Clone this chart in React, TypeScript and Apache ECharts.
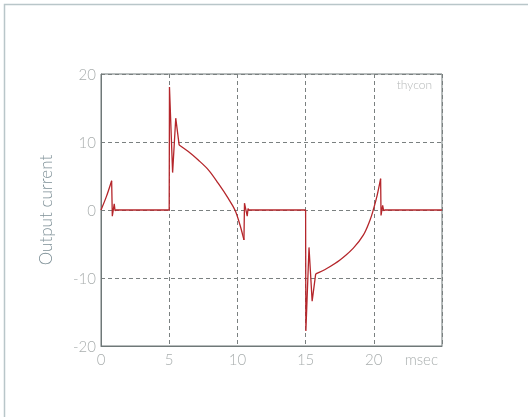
import React, { useEffect, useRef } from "react";
import * as echarts from "echarts";

// Sharp (switching) parts of the waveform
const spikeTime = [
  0.78, 0.83, 0.97, 1.03, 1.1,
  5.0, 5.02, 5.25, 5.48, 5.73,
];
const spikeCurrent = [
  4.3, -0.9, 0.9, -0.1, 0,
  0, 18.1, 5.5, 13.5, 9.55,
];
const spike2Time = [10.48, 10.52, 10.72, 10.78, 10.85, 15.0, 15.02, 15.25, 15.48, 15.74];
const spike2Current = [-4.4, 1.0, -0.9, 0.2, 0, 0, -17.8, -5.5, -13.4, -9.4];
const spike3Time = [20.5, 20.53, 20.65, 20.72, 20.8, 25];
const spike3Current = [4.6, -0.8, 0.7, -0.1, 0, 0];
// Smooth (conducting) parts
const riseTime = [0, 0.4, 0.78];
const riseCurrent = [0, 2.0, 4.3];
const decayTime = [5.73, 6.4, 7.13, 7.87, 8.6, 9.33, 9.82, 10.19, 10.48];
const decayCurrent = [9.55, 8.6, 7.35, 5.9, 3.9, 1.7, 0, -2.2, -4.4];
const decay2Time = [15.74, 16.55, 17.52, 18.5, 19.23, 19.72, 19.96, 20.25, 20.5];
const decay2Current = [-9.4, -8.6, -7.35, -5.6, -3.7, -1.5, 0, 2.2, 4.6];

const xTicks = [0, 5, 10, 15, 20];
const xUnit = "msec";
const yName = "Output current";
const tagText = "thycon";

const pairs = (xs: number[], ys: number[]) => xs.map((x, i) => [x, ys[i]]);

export default function App() {
  const ref = useRef<HTMLDivElement>(null);
  useEffect(() => {
    if (!ref.current) return;
    const chart = echarts.init(ref.current, undefined, { renderer: "svg" });
    const font = "Lato, 'Helvetica Neue', Arial, sans-serif";
    const lineColor = "#b5262b";
    const mk = (xs: number[], ys: number[], smooth: boolean) => ({
      type: "line",
      data: pairs(xs, ys),
      showSymbol: false,
      symbol: "none",
      smooth: smooth ? 0.35 : false,
      lineStyle: { color: lineColor, width: 1.3 },
      z: 3,
    });
    chart.setOption({
      animation: false,
      grid: {
        left: 101,
        top: 74,
        width: 341,
        height: 272,
        show: true,
        borderColor: "#6f7878",
        borderWidth: 1,
        containLabel: false,
      },
      xAxis: {
        type: "value",
        min: 0,
        max: 25,
        interval: 5,
        axisLine: { show: true, onZero: false, lineStyle: { color: "#6f7878", width: 1 } },
        axisTick: { show: false },
        axisLabel: {
          color: "#a9aeae",
          fontSize: 15,
          fontFamily: font,
          fontWeight: 300,
          margin: 5,
          alignMaxLabel: "right",
          formatter: (v: number) =>
            xTicks.includes(v) ? String(v) : v === 25 ? "{m|" + xUnit + "}" : "",
          rich: {
            m: { color: "#a9aeae", fontSize: 15, fontFamily: font, fontWeight: 300, padding: [0, 4, 0, 0] },
          },
        },
        splitLine: {
          show: true,
          lineStyle: { color: "#7a8080", type: [4, 3], width: 1 },
        },
      },
      yAxis: {
        type: "value",
        min: -20,
        max: 20,
        interval: 10,
        name: yName,
        nameLocation: "middle",
        nameGap: 47,
        nameTextStyle: { color: "#7e9097", fontSize: 17, fontFamily: font, fontWeight: 300 },
        axisLine: { show: true, onZero: false, lineStyle: { color: "#6f7878", width: 1 } },
        axisTick: { show: false },
        axisLabel: {
          color: "#a9aeae",
          fontSize: 15,
          fontFamily: font,
          fontWeight: 300,
          margin: 5,
        },
        splitLine: {
          show: true,
          lineStyle: { color: "#7a8080", type: [4, 3], width: 1 },
        },
      },
      graphic: [
        {
          type: "rect",
          silent: true,
          shape: { x: 4.5, y: 4.5, width: 600, height: 600 },
          style: { fill: "none", stroke: "#b9c6c9", lineWidth: 1.5 },
        },
        {
          type: "text",
          x: 432,
          y: 84,
          style: {
            text: tagText,
            fill: "#b5b8b8",
            fontSize: 12,
            fontFamily: font,
            fontWeight: 300,
            align: "right",
            verticalAlign: "middle",
          },
        },
      ],
      series: [
        mk(riseTime, riseCurrent, true),
        mk(spikeTime, spikeCurrent, false),
        mk(decayTime, decayCurrent, true),
        mk(spike2Time, spike2Current, false),
        mk(decay2Time, decay2Current, true),
        mk(spike3Time, spike3Current, false),
      ],
    });
    return () => chart.dispose();
  }, []);
  return (
    <div
      ref={ref}
      style={{ position: "fixed", left: 0, top: 0, width: 528, height: 417 }}
    />
  );
}
